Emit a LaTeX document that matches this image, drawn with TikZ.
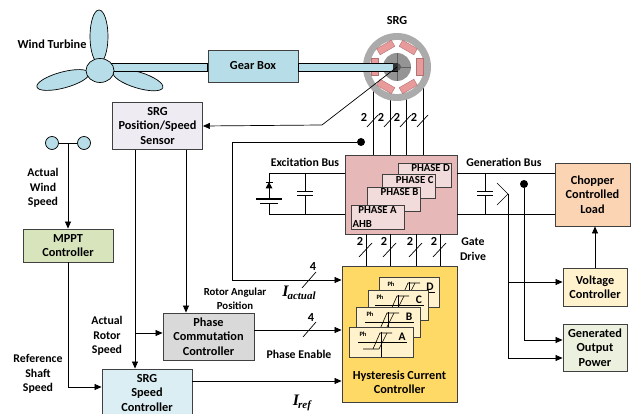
\documentclass[tikz,border=0pt]{standalone}
\usepackage{fontspec}
\setmainfont{Carlito}
\newfontfamily\tnr{Liberation Serif}
\usetikzlibrary{arrows.meta,calc,backgrounds}

\definecolor{shaftblue}{HTML}{B7DEE8}
\definecolor{sensorlilac}{HTML}{EEEBF3}
\definecolor{mpptgreen}{HTML}{D8E4BC}
\definecolor{speedblue}{HTML}{DAEEF3}
\definecolor{pccgray}{HTML}{D9D9D9}
\definecolor{ahbrose}{HTML}{E6B9B8}
\definecolor{cardrose}{HTML}{F2DCDB}
\definecolor{hccgold}{HTML}{FFD966}
\definecolor{cardcream}{HTML}{FFF2CC}
\definecolor{chopperpeach}{HTML}{FBD4B4}
\definecolor{genlime}{HTML}{EBF1DE}
\definecolor{polered}{HTML}{E99A9A}

\begin{document}
\begin{tikzpicture}[x=1pt,y=-1pt,
  font=\bfseries\fontsize{12.3}{14.5}\selectfont,
  block/.style={draw=black!75,line width=0.9pt,align=center,inner sep=1pt},
  card/.style={draw=black!75,line width=0.7pt,inner sep=0,minimum height=30},
  phtext/.style={font=\bfseries\fontsize{10.8}{12}\selectfont,inner sep=1.5pt},
  arr/.style={-{Triangle[length=7pt,width=6pt]}},
  lbl/.style={align=center,font=\bfseries\fontsize{11.8}{14.5}\selectfont},
  dot/.style={circle,fill,inner sep=0,minimum size=8},
  line width=0.7pt]
\useasboundingbox (0,0) rectangle (633,414);

% blocks
\node[block,fill=shaftblue,minimum width=90,minimum height=32] (gear) at (253,66) {Gear Box};
\node[block,fill=sensorlilac,minimum width=90,minimum height=47] (sensor) at (157.5,126) {SRG\\Position/Speed\\Sensor};
\node[block,fill=mpptgreen,minimum width=90,minimum height=33] (mppt) at (68,245.5) {MPPT\\Controller};
\node[block,fill=speedblue,minimum width=90,minimum height=48] (speed) at (147,393) {SRG\\Speed\\Controller};
\node[block,fill=pccgray,minimum width=91,minimum height=47] (pcc) at (208.5,336.5) {Phase\\Commutation\\Controller};
\node[block,fill=ahbrose,minimum width=112,minimum height=79] (ahb) at (401,194.5) {};
\node[block,fill=hccgold,minimum width=115,minimum height=136] (hcc) at (399.5,334) {};
\node[block,fill=chopperpeach,minimum width=75,minimum height=63] (chopper) at (592.5,194.5) {Chopper\\Controlled\\Load};
\node[block,fill=cardcream,minimum width=64,minimum height=38] (volt) at (595,287) {Voltage\\Controller};
\node[block,fill=genlime,minimum width=64,minimum height=47] (gen) at (595,347.5) {Generated\\Output\\Power};

% wind turbine and shaft
\draw[fill=shaftblue] (99,36.5) ellipse [x radius=9,y radius=26.5];
\draw[fill=shaftblue,shift={(63,80)},rotate=15] (0,0) ellipse [x radius=27,y radius=8];
\draw[fill=shaftblue,shift={(138,80)},rotate=-17] (0,0) ellipse [x radius=26,y radius=8];
\draw[fill=shaftblue] (110,63) rectangle (gear.west |- 0,71);
\draw[fill=shaftblue] (100,70.5) ellipse [x radius=14,y radius=12];

% generator
\node[circle,fill=black!33,minimum size=68,inner sep=0,
  label={[label distance=4pt]above:SRG}] (srg) at (397,67) {};
\fill[white] (srg.center) circle [radius=27];
\foreach \a in {0,60,...,300}
  \draw[fill=polered,draw=polered!75!black,line width=0.4pt,shift={(srg.center)},rotate=\a]
    (19,-8.5) rectangle (26,8.5);
\fill[black!42] (srg.center) circle [radius=14];
\draw[black!62,line width=0.6pt] ([xshift=-14]srg.center) -- ([xshift=14]srg.center)
  ([yshift=-14]srg.center) -- ([yshift=14]srg.center);
\fill[black!65] (srg.center) circle [radius=4];
\draw[fill=shaftblue] (gear.east |- 0,63) rectangle (srg.center |- 0,71);
\fill[black!80] (393,63) rectangle (398,71);

\begin{scope}[on background layer]
  \foreach \x in {373,390,406,423}
    \draw (\x,0 |- srg.center) -- (\x,0 |- ahb.north);
\end{scope}
\foreach \x in {373,390,406,423}{
  \draw (\x-6,127) -- (\x+5,115);
  \node (n2\x) at (\x-9,117) {2};
}

% asymmetric half bridge
\foreach \x/\y/\n in {425/175/D,408.5/186.5/C,393.5/199/B}
  \node[card,fill=cardrose,minimum width=53,minimum height=24,
    label={[phtext,anchor=north east]north east:PHASE \n}] (ph\n) at (\x,\y) {};
\node[card,fill=cardrose,minimum width=53,minimum height=24,
  label={[phtext,anchor=north]north:PHASE A},
  label={[phtext,anchor=south west]south west:AHB}] (phA) at (377.5,217) {};

\foreach \x in {366,390,416,440}{
  \draw (\x,0 |- ahb.south) -- (\x,0 |- hcc.north);
  \draw (\x-7,257) -- (\x+6,243);
  \node (g2\x) at (\x-6,241) {2};
}

% hysteresis bands
\foreach \x/\y/\w/\n in {409/292/60/D,398/305/60/C,388/322/64/B,381/342/64/A}{
  \node[card,fill=cardcream,minimum width=\w] (h\n) at (\x,\y) {};
  \begin{scope}[shift={(h\n.center)},line width=0.6pt]
    \draw (-23,0) -- (26,0) (0,-10) -- (0,15);
    \draw (-18,7) -- (-2,7) -- (6,-9);
    \draw (-8,7) -- (-1,-9) -- (11,-9);
    \node[font=\bfseries\fontsize{6.5}{7}\selectfont] (hp\n) at (-18,-8) {Ph};
    \node[font=\bfseries\fontsize{11.5}{12}\selectfont] (hl\n) at (21,-5) {\n};
  \end{scope}
}
\node[align=center] (hcclbl) at (399.5,382) {Hysteresis Current\\Controller};

% excitation bus
\draw (ahb.west |- 0,173) -- (269,173) -- (269,182);
\draw (265.5,182) -- (272.5,182);
\fill (269,182) -- (265.5,188.5) -- (272.5,188.5) -- cycle;
\draw (269,188) -- (269,199);
\draw[line width=1.3pt] (256,199) -- (282,199);
\draw[line width=1.3pt] (260,203.5) -- (278,203.5);
\draw (269,203.5) -- (269,214) -- (ahb.west |- 0,214);
\draw (305,173) -- (305,191) (297,191) -- (313,191)
  (297,195) -- (313,195) (305,195) -- (305,214);

% generation bus
\draw (ahb.east |- 0,173) -- (chopper.west |- 0,173);
\draw (ahb.east |- 0,214) -- (chopper.west |- 0,214);
\draw (485,173) -- (485,191) (477,191) -- (493,191)
  (477,195) -- (493,195) (485,195) -- (485,214);
\draw (497,183) -- (508,194) -- (497,205);
\draw[arr] (508,194) |- (gen.west |- 0,358);
\draw[arr] (508,282) -- (volt.west |- 0,282);
\node[dot] (vsense) at (524,184) {};
\draw[arr] (vsense) |- (gen.west |- 0,340);
\draw[arr] (volt.north) -- (volt.north |- chopper.south);

% control signals
\draw[arr] (srg.center) -- (322,125) -- (sensor.east);
\node[dot] (isense) at (361,142) {};
\draw[arr] (isense) -- (232,142) |- (hcc.west |- 0,280);
\draw (302,288) -- (316,272);
\node (n4a) at (313,267) {4};
\draw[arr] (pcc.east |- 0,330) -- (hcc.west |- 0,330);
\draw (303,337) -- (316,322);
\node (n4b) at (311,318) {4};
\draw[arr] (speed.east |- 0,381) -- (hcc.west |- 0,381);
\draw[arr] (135,0 |- sensor.south) -- (135,0 |- speed.north);
\draw[arr] (135,333) -- (pcc.west |- 0,333);
\draw[arr] (186,0 |- sensor.south) -- (186,0 |- pcc.north);
\draw[arr] (mppt.south) |- (speed.west |- 0,387);
\node[circle,draw,fill=shaftblue,minimum size=13,inner sep=0] (cupl) at (52,143) {};
\node[circle,draw,fill=shaftblue,minimum size=13,inner sep=0] (cupr) at (84,143) {};
\draw (cupl) -- (cupr);
\draw[arr] ($(cupl)!0.5!(cupr)$) -- (mppt.north);

% labels
\node (wt) at (52,44) {Wind Turbine};
\node[lbl] (exbus) at (305,162) {Excitation Bus};
\node[lbl] (genbus) at (504,162) {Generation Bus};
\node[lbl] (gate) at (473,249) {Gate\\Drive};
\node[lbl] (aws) at (43,188) {Actual\\Wind\\Speed};
\node[lbl] (rss) at (38,374) {Reference\\Shaft\\Speed};
\node[lbl] (ars) at (107,336) {Actual\\Rotor\\Speed};
\node[lbl,font=\bfseries\fontsize{10.8}{14}\selectfont] (rap) at (235,299) {Rotor Angular\\Position};
\node[lbl] (pen) at (299,354) {Phase Enable};
\node (iact) at (299,293) {\tnr\itshape\fontsize{16}{16}\selectfont I\kern-1pt\raisebox{-3pt}{\fontsize{11}{11}\selectfont actual}};
\node (iref) at (302,403) {\tnr\itshape\fontsize{16}{16}\selectfont I\kern-1pt\raisebox{-3pt}{\fontsize{11}{11}\selectfont ref}};
\end{tikzpicture}
\end{document}
